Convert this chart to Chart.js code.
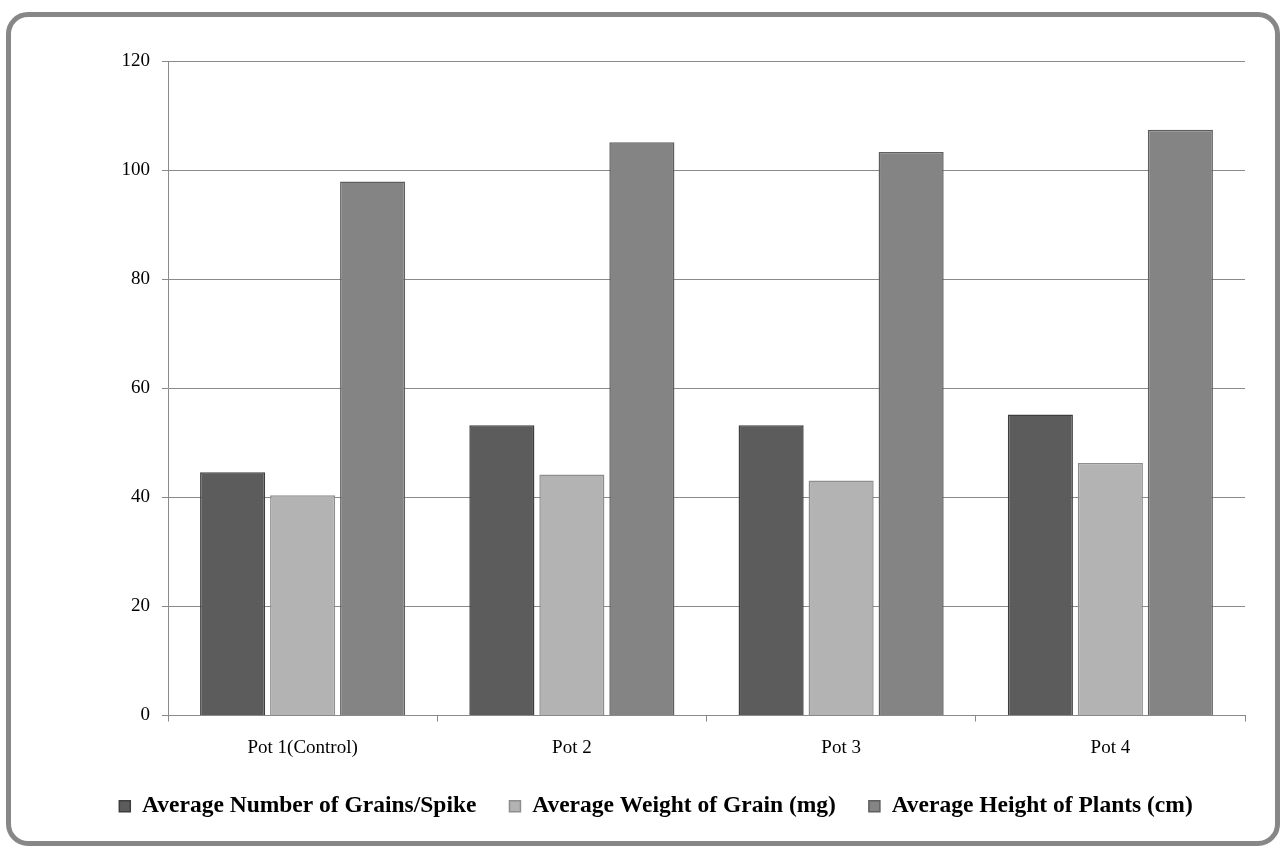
<!DOCTYPE html>
<html>
<head>
<meta charset="utf-8">
<script src="https://cdn.jsdelivr.net/npm/chart.js@4"></script>
<style>
  body { margin: 0; background: #fff; }
  #wrap { position: relative; width: 1282px; height: 849px; }
  #frame {
    position: absolute; left: 6px; top: 12px; width: 1274px; height: 834px;
    box-sizing: border-box; border: 5px solid #878787; border-radius: 22px;
    pointer-events: none;
  }
  canvas { position: absolute; left: 0; top: 0; }
</style>
</head>
<body>
<div id="wrap">
  <canvas id="grafico" width="1282" height="849"></canvas>
  <div id="frame"></div>
</div>
<script>
// categorias e series
const pots = ['Pot 1(Control)', 'Pot 2', 'Pot 3', 'Pot 4'];
const graosPorEspiga = [44.6, 53.2, 53.2, 55.2];
const pesoGrao = [40.4, 44.2, 43.1, 46.3];
const alturaPlantas = [97.9, 105.1, 103.3, 107.4];
const yTicks = [0, 20, 40, 60, 80, 100, 120];

const fonte = 'Liberation Serif, "Times New Roman", serif';

const dados = {
  labels: pots,
  datasets: [
    {
      label: 'Average Number of Grains/Spike',
      data: graosPorEspiga,
      backgroundColor: '#5c5c5c',
      borderColor: '#3e3e3e',
      borderWidth: 1.5
    },
    {
      label: 'Average Weight of Grain (mg)',
      data: pesoGrao,
      backgroundColor: '#b3b3b3',
      borderColor: '#8e8e8e',
      borderWidth: 1.5
    },
    {
      label: 'Average Height of Plants (cm)',
      data: alturaPlantas,
      backgroundColor: '#848484',
      borderColor: '#5e5e5e',
      borderWidth: 1.5
    }
  ]
};

const config = {
  type: 'bar',
  data: dados,
  options: {
    responsive: false,
    animation: false,
    datasets: {
      bar: { categoryPercentage: 0.78, barPercentage: 0.93 }
    },
    layout: { padding: { left: 67, right: 37, top: 61, bottom: 21 } },
    plugins: {
      tooltip: { enabled: false },
      legend: {
        position: 'bottom',
        labels: {
          boxWidth: 11,
          boxHeight: 11,
          padding: 33,
          color: '#000',
          font: { family: fonte, size: 23.5, weight: 'bold' }
        }
      }
    },
    scales: {
      x: {
        grid: { drawOnChartArea: false, drawTicks: true, tickLength: 6, color: '#8a8a8a' },
        border: { color: '#8a8a8a' },
        ticks: { color: '#000', padding: 15, font: { family: fonte, size: 19 } },
        afterFit: function (scale) { scale.height = 46; }
      },
      y: {
        min: 0,
        max: 120,
        afterBuildTicks: function (scale) {
          scale.ticks = yTicks.map(v => ({ value: v }));
        },
        grid: { color: '#8a8a8a', tickLength: 6 },
        border: { color: '#8a8a8a' },
        ticks: { color: '#000', padding: 12, font: { family: fonte, size: 19 } },
        afterFit: function (scale) { scale.width = 101; }
      }
    }
  }
};

const myChart = new Chart(document.getElementById('grafico'), config);
</script>
</body>
</html>
